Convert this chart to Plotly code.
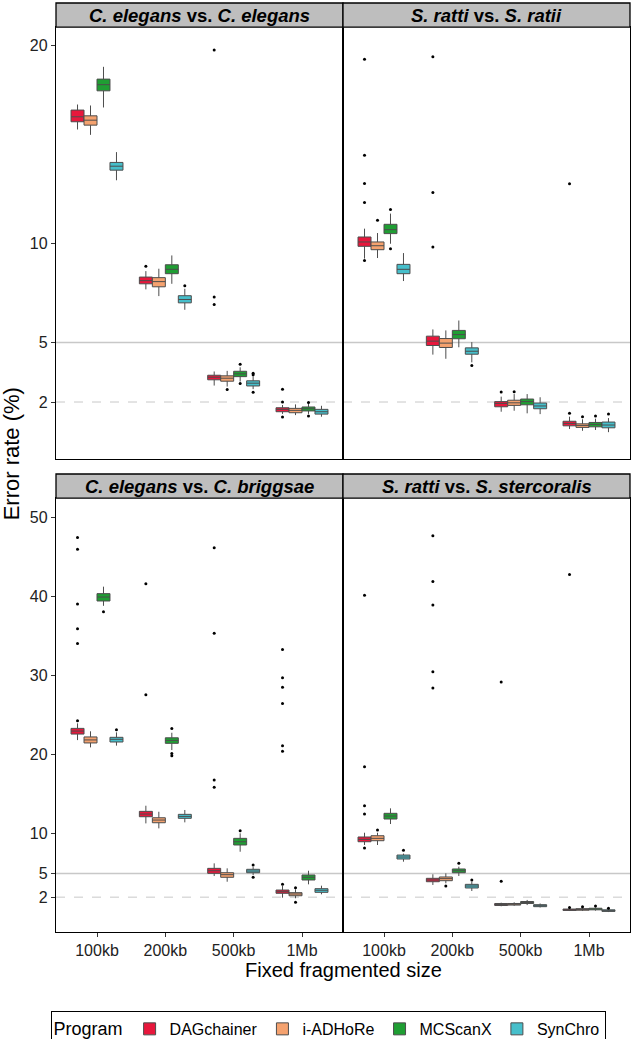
import plotly.graph_objects as go
from plotly.subplots import make_subplots

categories = ["100kb", "200kb", "500kb", "1Mb"]
programs = ["DAGchainer", "i-ADHoRe", "MCScanX", "SynChro"]
colors = {"DAGchainer": "#E8173C", "i-ADHoRe": "#F5A26F", "MCScanX": "#1F9E33", "SynChro": "#46BFCB"}

panel_titles = [
    "<i>C. elegans</i> vs. <i>C. elegans</i>",
    "<i>S. ratti</i> vs. <i>S. ratii</i>",
    "<i>C. elegans</i> vs. <i>C. briggsae</i>",
    "<i>S. ratti</i> vs. <i>S. stercoralis</i>",
]

# ---- Panel 1: C. elegans vs. C. elegans ----
ce_ce_q1 = {"DAGchainer": [16.13, 7.96, 3.12, 1.51], "i-ADHoRe": [15.96, 7.81, 3.05, 1.46],
            "MCScanX": [17.69, 8.47, 3.28, 1.55], "SynChro": [13.69, 7.00, 2.81, 1.39]}
ce_ce_med = {"DAGchainer": [16.38, 8.12, 3.25, 1.63], "i-ADHoRe": [16.21, 8.07, 3.20, 1.58],
             "MCScanX": [18.00, 8.69, 3.42, 1.66], "SynChro": [13.89, 7.17, 2.95, 1.51]}
ce_ce_q3 = {"DAGchainer": [16.72, 8.30, 3.35, 1.71], "i-ADHoRe": [16.43, 8.27, 3.32, 1.68],
            "MCScanX": [18.28, 8.92, 3.55, 1.75], "SynChro": [14.08, 7.36, 3.07, 1.63]}
ce_ce_lo = {"DAGchainer": [15.74, 7.68, 2.83, 1.40], "i-ADHoRe": [15.47, 7.34, 2.78, 1.34],
            "MCScanX": [16.85, 7.96, 3.03, 1.40], "SynChro": [13.18, 6.65, 2.65, 1.26]}
ce_ce_hi = {"DAGchainer": [17.00, 8.60, 3.54, 1.85], "i-ADHoRe": [16.95, 8.72, 3.57, 1.88],
            "MCScanX": [18.90, 9.39, 3.75, 1.90], "SynChro": [14.60, 7.71, 3.30, 1.81]}
ce_ce_out = {"DAGchainer": [[], [8.84], [19.75, 7.29, 6.92], [2.00, 2.64, 1.25]],
             "i-ADHoRe": [[], [], [2.63], []],
             "MCScanX": [[], [], [3.90, 2.93], [1.98, 1.29]],
             "SynChro": [[], [7.86], [3.45, 3.38, 2.49], []]}

# ---- Panel 2: S. ratti vs. S. ratii ----
sr_sr_q1 = {"DAGchainer": [9.85, 4.85, 1.76, 0.80], "i-ADHoRe": [9.68, 4.75, 1.83, 0.72],
            "MCScanX": [10.49, 5.19, 1.86, 0.75], "SynChro": [8.47, 4.41, 1.66, 0.70]}
sr_sr_med = {"DAGchainer": [10.07, 5.07, 1.93, 0.92], "i-ADHoRe": [9.88, 4.97, 1.96, 0.82],
             "MCScanX": [10.69, 5.40, 2.02, 0.87], "SynChro": [8.69, 4.56, 1.80, 0.84]}
sr_sr_q3 = {"DAGchainer": [10.32, 5.32, 2.02, 1.03], "i-ADHoRe": [10.07, 5.20, 2.09, 0.90],
            "MCScanX": [10.96, 5.61, 2.15, 0.97], "SynChro": [8.94, 4.73, 1.95, 0.99]}
sr_sr_lo = {"DAGchainer": [9.23, 4.39, 1.51, 0.64], "i-ADHoRe": [9.26, 4.18, 1.56, 0.55],
            "MCScanX": [9.98, 4.76, 1.43, 0.59], "SynChro": [8.10, 4.00, 1.39, 0.48]}
sr_sr_hi = {"DAGchainer": [10.74, 5.66, 2.27, 1.26], "i-ADHoRe": [10.52, 5.61, 2.40, 1.13],
            "MCScanX": [11.50, 6.11, 2.40, 1.16], "SynChro": [9.51, 5.02, 2.24, 1.19]}
sr_sr_out = {"DAGchainer": [[19.28, 14.44, 13.02, 12.06, 9.14], [19.41, 12.56, 9.81], [2.51], [13.00, 1.43]],
             "i-ADHoRe": [[11.16], [], [2.52], [1.26]],
             "MCScanX": [[11.70, 9.73], [], [], [1.29]],
             "SynChro": [[], [3.84], [], [1.39]]}

# ---- Panel 3: C. elegans vs. C. briggsae ----
ce_cb_q1 = {"DAGchainer": [22.60, 12.16, 5.01, 2.49], "i-ADHoRe": [21.48, 11.40, 4.51, 2.18],
            "MCScanX": [39.41, 21.43, 8.59, 4.17], "SynChro": [21.60, 11.96, 5.09, 2.61]}
ce_cb_med = {"DAGchainer": [22.98, 12.50, 5.34, 2.69], "i-ADHoRe": [21.86, 11.74, 4.84, 2.40],
             "MCScanX": [39.91, 21.80, 9.00, 4.51], "SynChro": [21.94, 12.20, 5.30, 2.87]}
ce_cb_q3 = {"DAGchainer": [23.32, 12.84, 5.64, 2.90], "i-ADHoRe": [22.24, 12.03, 5.09, 2.57],
            "MCScanX": [40.34, 22.13, 9.43, 4.80], "SynChro": [22.19, 12.46, 5.52, 3.07]}
ce_cb_lo = {"DAGchainer": [21.84, 11.32, 4.67, 1.93], "i-ADHoRe": [20.92, 10.69, 3.95, 1.86],
            "MCScanX": [38.80, 20.58, 7.74, 3.62], "SynChro": [21.14, 11.45, 4.80, 2.36]}
ce_cb_hi = {"DAGchainer": [23.95, 13.55, 6.27, 3.41], "i-ADHoRe": [22.95, 12.79, 5.64, 2.99],
            "MCScanX": [41.22, 22.77, 10.06, 5.34], "SynChro": [22.82, 13.01, 5.80, 3.45]}
ce_cb_out = {"DAGchainer": [[47.43, 45.96, 39.02, 35.90, 34.05, 24.28], [41.60, 27.56],
                            [46.13, 35.33, 16.79, 15.87], [33.27, 29.71, 28.52, 26.45, 21.14, 20.42, 3.62]],
             "i-ADHoRe": [[], [], [], [3.19, 1.35]],
             "MCScanX": [[38.04], [23.32, 20.16, 19.86], [10.39], []],
             "SynChro": [[23.16], [], [6.06, 4.51], []]}

# ---- Panel 4: S. ratti vs. S. stercoralis ----
sr_ss_q1 = {"DAGchainer": [9.00, 3.95, 0.95, 0.32], "i-ADHoRe": [9.13, 4.08, 1.00, 0.35],
            "MCScanX": [11.87, 5.09, 1.20, 0.40], "SynChro": [6.82, 3.16, 0.80, 0.20]}
sr_ss_med = {"DAGchainer": [9.30, 4.17, 1.05, 0.42], "i-ADHoRe": [9.43, 4.34, 1.10, 0.45],
             "MCScanX": [12.25, 5.34, 1.35, 0.50], "SynChro": [7.07, 3.41, 0.92, 0.30]}
sr_ss_q3 = {"DAGchainer": [9.60, 4.38, 1.20, 0.50], "i-ADHoRe": [9.76, 4.55, 1.20, 0.55],
            "MCScanX": [12.59, 5.56, 1.45, 0.60], "SynChro": [7.32, 3.62, 1.05, 0.40]}
sr_ss_lo = {"DAGchainer": [8.59, 3.54, 0.85, 0.25], "i-ADHoRe": [8.59, 3.75, 0.90, 0.25],
            "MCScanX": [11.24, 4.67, 1.00, 0.30], "SynChro": [6.48, 2.78, 0.70, 0.12]}
sr_ss_hi = {"DAGchainer": [10.14, 4.89, 1.30, 0.60], "i-ADHoRe": [10.14, 5.01, 1.35, 0.65],
            "MCScanX": [13.22, 5.85, 1.65, 0.70], "SynChro": [7.50, 3.95, 1.20, 0.45]}
sr_ss_out = {"DAGchainer": [[40.15, 18.47, 13.55, 12.50, 8.21], [47.64, 41.88, 38.89, 30.47, 28.41],
                            [29.17, 4.00], [42.76, 0.70]],
             "i-ADHoRe": [[10.48], [3.41], [], [0.80]],
             "MCScanX": [[], [6.27], [], [0.90]],
             "SynChro": [[7.92], [4.17], [], [0.60]]}

top_ticks = [2, 5, 10, 20]
bottom_ticks = [2, 5, 10, 20, 30, 40, 50]

panels = [
    (1, 1, ce_ce_q1, ce_ce_med, ce_ce_q3, ce_ce_lo, ce_ce_hi, ce_ce_out),
    (1, 2, sr_sr_q1, sr_sr_med, sr_sr_q3, sr_sr_lo, sr_sr_hi, sr_sr_out),
    (2, 1, ce_cb_q1, ce_cb_med, ce_cb_q3, ce_cb_lo, ce_cb_hi, ce_cb_out),
    (2, 2, sr_ss_q1, sr_ss_med, sr_ss_q3, sr_ss_lo, sr_ss_hi, sr_ss_out),
]

FONT = "Liberation Sans, Arial, sans-serif"

fig = make_subplots(rows=2, cols=2, horizontal_spacing=0, vertical_spacing=0.05)

for k, (r, c, q1, med, q3, lo, hi, out) in enumerate(panels):
    for p in programs:
        # empty outlier lists are passed as [None] so plotly keeps the 2-D sample layout
        pts = [o if len(o) else [None] for o in out[p]]
        fig.add_trace(go.Box(
            name=p, x=categories, q1=q1[p], median=med[p], q3=q3[p],
            lowerfence=lo[p], upperfence=hi[p], y=pts,
            boxpoints="all", jitter=0, pointpos=0,
            marker=dict(color="black", size=3),
            fillcolor=colors[p], line=dict(color="#4D4D4D", width=1),
            whiskerwidth=0, legendgroup=p, showlegend=(k == 0),
            offsetgroup=p,
        ), row=r, col=c)

xdom = [[0.0, 0.5], [0.5, 1.0]]
ydom_top = [0.509, 0.974]
ydom_bot = [0.0, 0.467]

axis_common = dict(showgrid=False, zeroline=False, showline=True, mirror=True,
                   linecolor="black", linewidth=1.3, automargin=False)

for k, (r, c, *_rest) in enumerate(panels):
    idx = k + 1
    xa = "xaxis" if idx == 1 else f"xaxis{idx}"
    ya = "yaxis" if idx == 1 else f"yaxis{idx}"
    yd = ydom_top if r == 1 else ydom_bot
    fig.layout[xa].update(domain=xdom[c - 1], range=[-0.6, 3.6], type="category",
                          categoryorder="array", categoryarray=categories,
                          showticklabels=(r == 2), ticks="outside" if r == 2 else "",
                          ticklen=4, tickcolor="#333333",
                          tickfont=dict(size=16, color="#222222", family=FONT), **axis_common)
    fig.layout[ya].update(domain=yd,
                          range=[-0.88, 20.9] if r == 1 else [-2.4, 52.4],
                          tickvals=top_ticks if r == 1 else bottom_ticks,
                          showticklabels=(c == 1), ticks="outside" if c == 1 else "",
                          ticklen=4, tickcolor="#333333",
                          tickfont=dict(size=16, color="#222222", family=FONT), **axis_common)
    xref = "x" if idx == 1 else f"x{idx}"
    yref = "y" if idx == 1 else f"y{idx}"
    fig.add_shape(type="line", xref=f"{xref} domain", yref=yref, x0=0, x1=1, y0=5, y1=5,
                  line=dict(color="#C8C8C8", width=1.5), layer="below")
    fig.add_shape(type="line", xref=f"{xref} domain", yref=yref, x0=0, x1=1, y0=2, y1=2,
                  line=dict(color="#C8C8C8", width=1, dash="dash"), layer="below")

# strips
strip_h = [(0.974, 1.0), (0.467, 0.493)]
for k, (r, c, *_rest) in enumerate(panels):
    y0, y1 = strip_h[r - 1]
    x0, x1 = xdom[c - 1]
    fig.add_shape(type="rect", xref="paper", yref="paper", x0=x0, x1=x1, y0=y0, y1=y1,
                  fillcolor="#BEBEBE", line=dict(color="black", width=1.3))
    fig.add_annotation(text=f"<b>{panel_titles[k]}</b>", xref="paper", yref="paper",
                       x=(x0 + x1) / 2, y=(y0 + y1) / 2, showarrow=False,
                       font=dict(size=18.5, color="black", family=FONT),
                       xanchor="center", yanchor="middle")

fig.add_annotation(text="Error rate (%)", xref="paper", yref="paper", x=-0.077, y=0.515,
                   textangle=-90, showarrow=False, xanchor="center", yanchor="middle",
                   font=dict(size=22, color="black", family=FONT))
fig.add_annotation(text="Fixed fragmented size", xref="paper", yref="paper", x=0.5, y=-0.041,
                   showarrow=False, xanchor="center", yanchor="middle",
                   font=dict(size=20, color="black", family=FONT))

fig.update_layout(
    width=632, height=1039,
    margin=dict(l=56, r=2, t=3, b=107, autoexpand=False),
    plot_bgcolor="white", paper_bgcolor="white",
    boxmode="group", boxgap=0.24, boxgroupgap=0,
    font=dict(family=FONT, color="black"),
    legend=dict(orientation="h", x=0.474, xanchor="center",
                yref="container", y=0.027, yanchor="top",
                bordercolor="black", borderwidth=1, bgcolor="white",
                title=dict(text="Program", font=dict(size=18), side="left"),
                font=dict(size=16), itemwidth=30, tracegroupgap=0),
)

fig.write_html(
    "out.html",
    config={"displayModeBar": False},
    post_script="document.body.style.margin='0';document.body.style.overflow='hidden';",
)
